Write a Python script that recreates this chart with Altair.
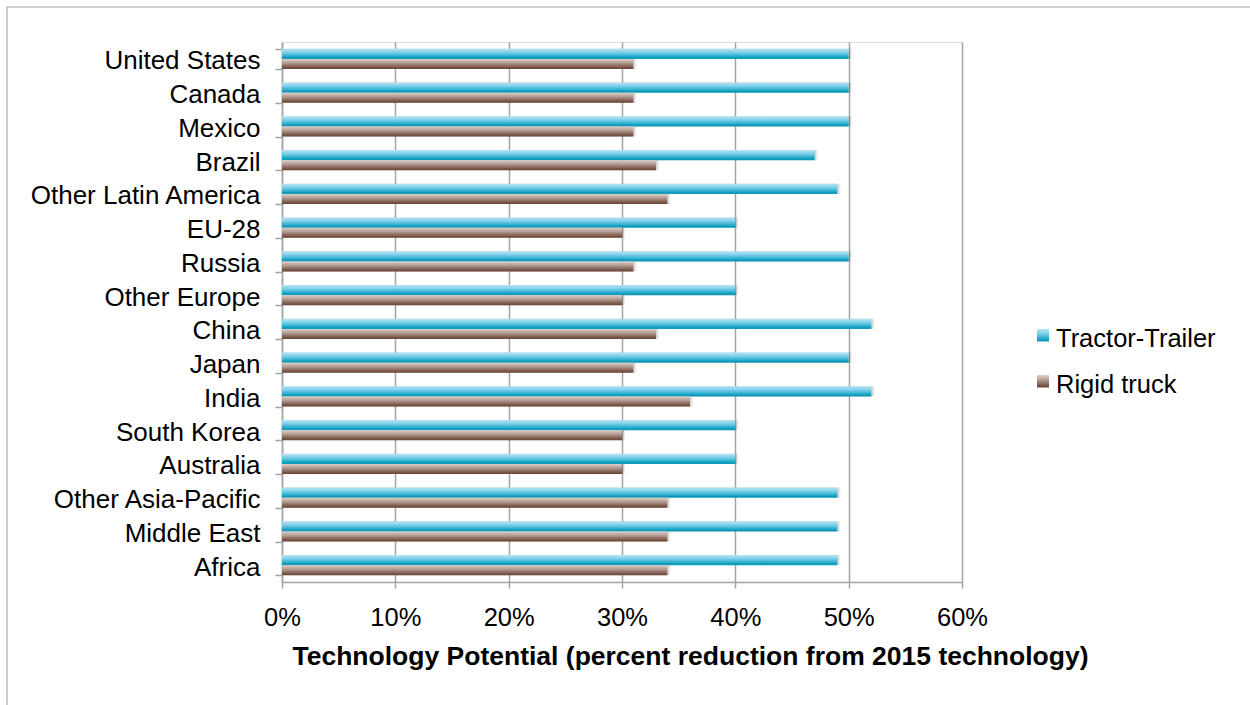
import altair as alt
import pandas as pd

# Regions, top to bottom
countries = [
    "United States", "Canada", "Mexico", "Brazil", "Other Latin America",
    "EU-28", "Russia", "Other Europe", "China", "Japan", "India",
    "South Korea", "Australia", "Other Asia-Pacific", "Middle East", "Africa",
]
series = ["Tractor-Trailer", "Rigid truck"]

# Technology potential (fraction reduction from 2015 technology)
tractor_trailer = [0.50, 0.50, 0.50, 0.47, 0.49, 0.40, 0.50, 0.40,
                   0.52, 0.50, 0.52, 0.40, 0.40, 0.49, 0.49, 0.49]
rigid_truck = [0.31, 0.31, 0.31, 0.33, 0.34, 0.30, 0.31, 0.30,
               0.33, 0.31, 0.36, 0.30, 0.30, 0.34, 0.34, 0.34]

x_ticks = [0.0, 0.1, 0.2, 0.3, 0.4, 0.5, 0.6]

rows = []
for c, tt, rt in zip(countries, tractor_trailer, rigid_truck):
    rows.append({"region": c, "series": series[0], "value": tt})
    rows.append({"region": c, "series": series[1], "value": rt})
df = pd.DataFrame(rows)

FONT = "Liberation Sans"
W, H = 680, 540
GRID = "#A3A3A3"

fills = {
    series[0]: alt.Gradient(
        gradient="linear", x1=0, x2=0, y1=0, y2=1,
        stops=[
            alt.GradientStop(offset=0.0, color="#B6E4F5"),
            alt.GradientStop(offset=0.35, color="#80D0EA"),
            alt.GradientStop(offset=0.72, color="#2CAFD0"),
            alt.GradientStop(offset=0.9, color="#0897B5"),
            alt.GradientStop(offset=1.0, color="#1CA3C1"),
        ],
    ),
    series[1]: alt.Gradient(
        gradient="linear", x1=0, x2=0, y1=0, y2=1,
        stops=[
            alt.GradientStop(offset=0.0, color="#DDD0CB"),
            alt.GradientStop(offset=0.4, color="#B29C93"),
            alt.GradientStop(offset=0.8, color="#7E5B4B"),
            alt.GradientStop(offset=1.0, color="#6A4232"),
        ],
    ),
}

y_enc = alt.Y(
    "region:N",
    sort=countries,
    scale=alt.Scale(paddingInner=0.40, paddingOuter=0.20),
    axis=alt.Axis(
        title=None,
        tickBand="extent",
        ticks=True,
        tickSize=7,
        tickColor=GRID,
        tickWidth=1.5,
        domainColor=GRID,
        domainWidth=1.5,
        labelFont=FONT,
        labelFontSize=26,
        labelColor="#000000",
        labelPadding=15,
        labelOffset=2,
        labelLimit=0,
        grid=False,
    ),
)
yoff_enc = alt.YOffset("series:N", scale=alt.Scale(domain=series, paddingInner=0, paddingOuter=0))
x_enc = alt.X(
    "value:Q",
    scale=alt.Scale(domain=[0, 0.6], nice=False),
    axis=alt.Axis(
        values=x_ticks,
        format=".0%",
        title="Technology Potential (percent reduction from 2015 technology)",
        titleFont=FONT,
        titleFontSize=26.5,
        titleFontWeight="bold",
        titleColor="#000000",
        titleX=408,
        titleY=82,
        titleAlign="center",
        titleBaseline="alphabetic",
        labelFont=FONT,
        labelFontSize=25.5,
        labelColor="#000000",
        labelBaseline="alphabetic",
        labelPadding=37,
        labelFlush=False,
        labelOverlap=False,
        tickSize=6,
        tickColor=GRID,
        tickWidth=1.5,
        domainColor=GRID,
        domainWidth=1.5,
        grid=True,
        gridColor=GRID,
        gridWidth=1.5,
    ),
)

base = alt.Chart(df)

# Soft drop shadow under each bar
shadow1 = base.mark_bar(color="#000000", opacity=0.07, xOffset=3, yOffset=5).encode(
    x=x_enc, y=y_enc, yOffset=yoff_enc
)
shadow2 = base.mark_bar(color="#000000", opacity=0.10, xOffset=1.5, yOffset=2.5).encode(
    x=x_enc, y=y_enc, yOffset=yoff_enc
)

bar_layers = []
for s in series:
    bar_layers.append(
        base.transform_filter(alt.datum.series == s)
        .mark_bar(fill=fills[s])
        .encode(x=x_enc, y=y_enc, yOffset=yoff_enc)
    )

# Legend drawn by hand so the swatches can carry the same gradients
legend_layers = []
for i, s in enumerate(series):
    top = 287 + 46 * i
    legend_df = pd.DataFrame({"label": [s]})
    legend_layers.append(
        alt.Chart(legend_df).mark_rect(fill=fills[s]).encode(
            x=alt.value(755), x2=alt.value(767),
            y=alt.value(top), y2=alt.value(top + 12.5),
        )
    )
    legend_layers.append(
        alt.Chart(legend_df).mark_text(
            font=FONT, fontSize=25.5, align="left", baseline="alphabetic", color="#000000"
        ).encode(x=alt.value(774), y=alt.value(top + 18), text="label:N")
    )

# Thin frame around the whole figure
frame = alt.Chart(pd.DataFrame({"f": [0]})).mark_rect(
    fill="transparent", stroke="#A8A8A8", strokeWidth=1.2
).encode(
    x=alt.value(-275), x2=alt.value(1100),
    y=alt.value(-35), y2=alt.value(800),
)

chart = (
    alt.layer(frame, shadow1, shadow2, *bar_layers, *legend_layers)
    .properties(
        width=W,
        height=H,
        autosize=alt.AutoSizeParams(type="none"),
        padding={"left": 282, "top": 42, "right": 288, "bottom": 123},
    )
    .configure_view(stroke="transparent")
    .configure(background="#FFFFFF")
)

chart.save("out.html", embed_options={"renderer": "svg", "actions": False})
